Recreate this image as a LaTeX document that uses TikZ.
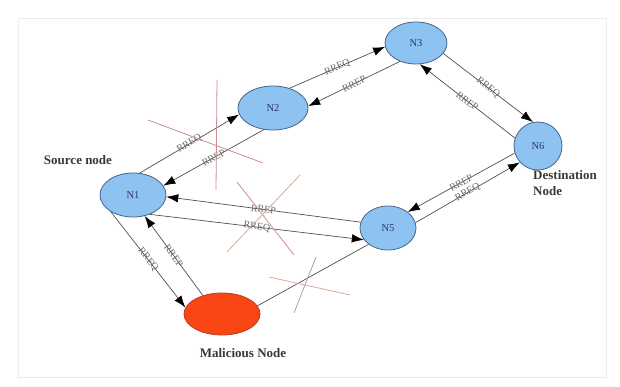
\documentclass[tikz,border=0pt]{standalone}
\usepackage{fontspec}
\setmainfont{Liberation Serif}
\usetikzlibrary{shapes.geometric,arrows.meta}
\definecolor{nodefill}{RGB}{142,194,240}
\definecolor{nodeline}{RGB}{70,100,140}
\definecolor{nodetext}{RGB}{45,55,95}
\definecolor{malfill}{RGB}{250,70,20}
\definecolor{malline}{RGB}{190,60,30}
\definecolor{edgecol}{RGB}{80,80,80}
\definecolor{labcol}{RGB}{105,105,105}
\definecolor{crossA}{RGB}{205,140,145}
\definecolor{crossB}{RGB}{215,170,150}
\definecolor{crossC}{RGB}{175,160,160}
\definecolor{framecol}{RGB}{236,236,236}
\begin{document}
\begin{tikzpicture}[x=1pt,y=-1pt,
  hop/.style={ellipse, draw=nodeline, fill=nodefill, line width=0.8pt,
    inner sep=0pt, text=nodetext, font=\fontsize{10.5}{12}\selectfont},
  bad/.style={ellipse, draw=malline, fill=malfill, line width=0.8pt, inner sep=0pt},
  arr/.style={draw=edgecol, line width=0.7pt, -{Latex[length=12pt,width=8.5pt,color=black]}},
  link/.style={draw=edgecol, line width=0.7pt},
  msg/.style={midway, sloped, inner sep=0pt, text=labcol, font=\fontsize{10}{10}\selectfont},
  lbl/.style={inner sep=0pt, text=black!78, font=\bfseries\fontsize{13}{16}\selectfont},
  crossline/.style={line width=0.8pt}]
\useasboundingbox (0,0) rectangle (620,387);
\draw[framecol] (18,18) rectangle (606,377);

% network nodes
\node[hop, minimum width=66pt, minimum height=44pt] (N1) at (133,195) {N1};
\node[hop, minimum width=70pt, minimum height=44pt] (N2) at (273,108) {N2};
\node[hop, minimum width=62pt, minimum height=42pt] (N3) at (416,43) {N3};
\node[hop, minimum width=48pt, minimum height=48pt] (N6) at (538,146) {N6};
\node[hop, minimum width=56pt, minimum height=44pt] (N5) at (388,228) {N5};
\node[bad, minimum width=76pt, minimum height=42pt] (M) at (222,314) {};

% route messages
\draw[arr] (N1.73) -- node[msg]{RREQ} (N2.191);
\draw[arr] (N2.247) -- node[msg]{RREP} (N1.17);
\draw[arr] (N2.50) -- node[msg]{RREQ} (N3.187);
\draw[arr] (N3.229) -- node[msg]{RREP} (N2.3);
\draw[arr] (N3.339) -- node[msg]{RREQ} (N6.102);
\draw[arr] (N6.161) -- node[msg]{RREP} (N3.280);
\draw[arr] (N6.197) -- node[msg]{RREP} (N5.39);
\draw[arr] (N5.11) -- node[msg]{RREQ} (N6.222);
\draw[arr] (N5.168) -- node[msg]{RREP} (N1.357);
\draw[arr] (N1.311) -- node[msg]{RREQ} (N5.206);
\draw[arr] (N1.217) -- node[msg]{RREQ} (M.170);
\draw[arr] (M.136) -- node[msg]{RREP} (N1.299);
\draw[link] (M.13) -- (N5.220);

% broken routes
\draw[crossline, crossA] (217,80) -- (216,190);
\draw[crossline, crossA] (148,120) -- (263,163);
\draw[crossline, crossA] (237,182) -- (294,255);
\draw[crossline, crossB] (300,175) -- (227,252);
\draw[crossline, crossB] (269,277) -- (350,295);
\draw[crossline, crossC] (316,257) -- (294,313);

% captions
\node[lbl] (src) at (78,160) {Source node};
\node[lbl, align=left, anchor=north west] (dst) at (533,170) {Destination\\Node};
\node[lbl] (mal) at (243,353) {Malicious Node};
\end{tikzpicture}
\end{document}
